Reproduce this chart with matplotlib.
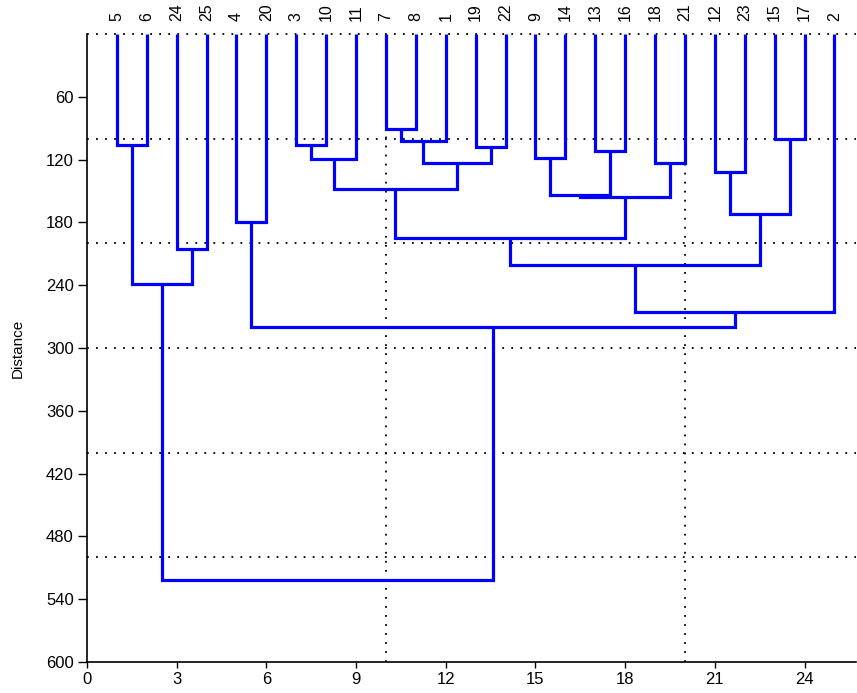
import matplotlib
matplotlib.use("Agg")
import matplotlib.pyplot as plt

plt.rcParams['font.family'] = ['Liberation Sans', 'DejaVu Sans']

# leaf labels, left to right (positions 1..25)
leaf_order = [5, 6, 24, 25, 4, 20, 3, 10, 11, 7, 8, 1, 19, 22,
              9, 14, 13, 16, 18, 21, 12, 23, 15, 17, 2]

# merges: cluster cN joins merge_a[N] and merge_b[N] at distance merge_h[N]
merge_a = ["5", "24", "4", "3", "c3", "7", "c5", "19", "c6", "c4", "9", "13",
           "c10", "18", "c12", "12", "15", "c15", "c9", "c18", "c19", "c0",
           "c2", "c21"]
merge_b = ["6", "25", "20", "10", "11", "8", "1", "22", "c7", "c8", "14", "16",
           "c11", "21", "c13", "23", "17", "c16", "c14", "c17", "2", "c1",
           "c20", "c22"]
merge_h = [106, 205, 180, 106, 119, 91, 102, 108, 123, 148, 118, 112,
           154, 123, 156, 132, 100, 172, 195, 221, 266, 239, 280, 522]

xticks = [0, 3, 6, 9, 12, 15, 18, 21, 24]
yticks = [60, 120, 180, 240, 300, 360, 420, 480, 540, 600]
hgrid = [0, 100, 200, 300, 400, 500]
vgrid = [10, 20]

fig = plt.figure(figsize=(8.57, 6.93), dpi=100)
ax = fig.add_axes([87 / 857, 31 / 693, 769 / 857, 628 / 693])

# position / height of each node
pos = {str(lbl): i + 1 for i, lbl in enumerate(leaf_order)}
hgt = {str(lbl): 0 for lbl in leaf_order}

for i in range(len(merge_h)):
  a, b, h = merge_a[i], merge_b[i], merge_h[i]
  xa, xb = pos[a], pos[b]
  ax.plot([xa, xa, xb, xb], [hgt[a], h, h, hgt[b]], color='#0000ff',
          lw=2.3, solid_joinstyle='miter', solid_capstyle='butt', zorder=3)
  pos["c%d" % i] = (xa + xb) / 2.0
  hgt["c%d" % i] = h

# dotted reference lines
for g in hgrid:
  ax.axhline(g, color='black', ls=(0, (1, 4)), lw=1.3, zorder=1,
             clip_on=False)
for g in vgrid:
  ax.axvline(g, color='black', ls=(0, (1, 4)), lw=1.3, zorder=1)

for i, lbl in enumerate(leaf_order):
  ax.annotate(str(lbl), xy=(i + 1, 1), xycoords=ax.get_xaxis_transform(),
              xytext=(0, 9.5), textcoords='offset points', rotation=90,
              ha='center', va='bottom', fontsize=11.5)

ax.set_xlim(0, 25.72)
ax.set_ylim(600, 0)
ax.set_xticks(xticks)
ax.set_yticks(yticks)
ax.tick_params(axis='both', labelsize=12, width=1, color='black')
ax.tick_params(axis='y', length=6.5, pad=3)
ax.tick_params(axis='x', length=4.5, pad=2.5)
ax.spines['top'].set_visible(False)
ax.spines['right'].set_visible(False)
ax.spines['left'].set_linewidth(1.2)
ax.spines['bottom'].set_linewidth(1.2)
ax.set_ylabel('Distance', fontsize=11, labelpad=15)

fig.savefig('out.png', dpi=100)
